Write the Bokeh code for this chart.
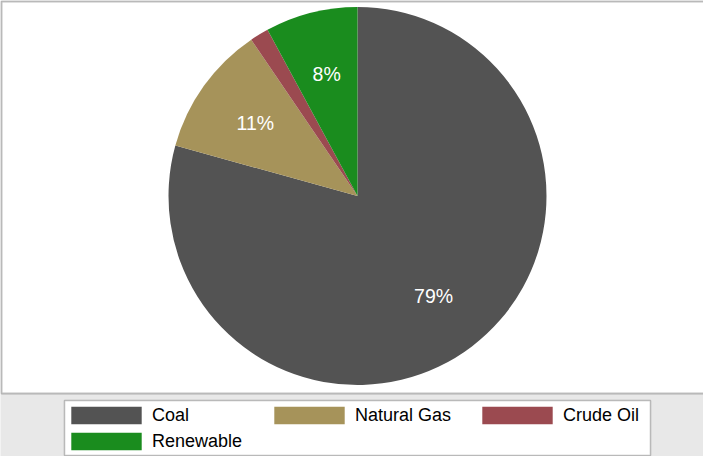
import math
from bokeh.plotting import figure
from bokeh.models import ColumnDataSource, Range1d, Legend, LegendItem, BoxAnnotation
from bokeh.core.properties import value
from bokeh.embed import file_html
from bokeh.resources import INLINE

# ---- data ----
categories = ["Coal", "Natural Gas", "Crude Oil", "Renewable"]
shares = [79.3, 11.2, 1.6, 7.9]
colors = ["#535353", "#a6935a", "#9b4a50", "#1a8c1e"]

# ---- geometry (screen-pixel data units, pie centre at 0,0) ----
W, H = 703, 456
CX, CY = 357, 195.5          # centre offset from frame left / top
BOX_BOTTOM = 393             # white plot box bottom, px from top
R = 189
total = sum(shares)
starts, ends, mids = [], [], []
cum = 0.0
for s in shares:
    a0 = math.pi / 2 - 2 * math.pi * cum / total
    cum += s
    a1 = math.pi / 2 - 2 * math.pi * cum / total
    starts.append(a0)
    ends.append(a1)
    mids.append((a0 + a1) / 2)

src = ColumnDataSource(dict(cat=categories, share=shares, color=colors,
                            start=starts, end=ends))

lab_r = 0.665 * R
lab_x, lab_y, lab_t = [], [], []
for s, m in zip(shares, mids):
    if s / total * 100 >= 5:
        lab_x.append(lab_r * math.cos(m))
        lab_y.append(lab_r * math.sin(m))
        lab_t.append(f"{round(s / total * 100)}%")
lab_src = ColumnDataSource(dict(x=lab_x, y=lab_y, t=lab_t))

p = figure(width=W, height=H, output_backend="svg", toolbar_location=None,
           x_axis_location=None, y_axis_location=None,
           x_range=Range1d(-CX, W - CX), y_range=Range1d(-(H - CY), CY),
           min_border=0)
p.grid.visible = False
p.background_fill_color = "#e8e8e8"
p.border_fill_color = "#e8e8e8"
p.outline_line_color = None

# white plot region with dark border
p.add_layout(BoxAnnotation(left=-CX + 1, right=W - CX + 2, top=CY - 1, bottom=CY - BOX_BOTTOM,
                           fill_color="white", fill_alpha=1.0,
                           line_color="#333333", line_width=2, level="underlay"))

wedges = p.wedge(x=0, y=0, radius=R, radius_units="screen",
                 start_angle="start", end_angle="end", direction="clock",
                 fill_color="color", line_color=None, source=src)

p.text(x="x", y="y", text="t", source=lab_src, text_color="white",
       text_font=value("Liberation Sans"), text_font_size="19.5px",
       text_align="center", text_baseline="middle")

# legend frame (px from frame top-left)
LG_L, LG_R, LG_T, LG_B = 64, 650, 400, 455
p.add_layout(BoxAnnotation(left=LG_L - CX, right=LG_R - CX, top=CY - LG_T, bottom=CY - LG_B,
                           fill_color="white", fill_alpha=1.0,
                           line_color="#333333", line_width=1.5, level="underlay"))

# legend columns: (item indices, left px)
columns = [([0, 3], 62), ([1], 265), ([2], 473)]
GH, SP = 22, 4
item_top = 404
for idxs, left in columns:
    n = len(idxs)
    height = n * GH + (n - 1) * SP
    vy = H - (item_top + height)
    items = [LegendItem(label=categories[i], renderers=[wedges], index=i) for i in idxs]
    lg = Legend(items=items, location=(left, vy), orientation="vertical",
                glyph_width=88, glyph_height=GH, label_standoff=2,
                label_text_font="Liberation Sans", label_text_font_size="18px",
                label_text_color="black", label_height=20,
                spacing=SP, padding=0, margin=0,
                border_line_color=None, background_fill_alpha=0.0)
    p.add_layout(lg, "center")

open("out.html", "w").write(file_html(p, INLINE))
